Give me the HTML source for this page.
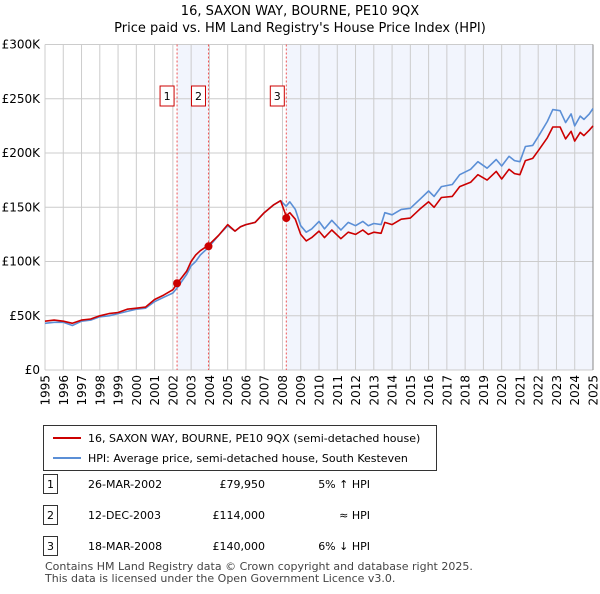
<!DOCTYPE html>
<html><head><meta charset="utf-8"><style>
body{margin:0;background:#fff;font-family:"DejaVu Sans","Liberation Sans",sans-serif;color:#222}
svg text{font-family:"DejaVu Sans","Liberation Sans",sans-serif}
</style></head><body>
<svg id="c" width="600" height="590" xmlns="http://www.w3.org/2000/svg">
<text x="300" y="15" text-anchor="middle" font-size="13">16, SAXON WAY, BOURNE, PE10 9QX</text>
<text x="300" y="32" text-anchor="middle" font-size="13">Price paid vs. HM Land Registry's House Price Index (HPI)</text>
<g id="plot"></g>
<g>
<rect x="43.5" y="425.5" width="393" height="45" fill="#fff" stroke="#333"/>
<line x1="53" y1="438" x2="81" y2="438" stroke="#cc0000" stroke-width="2"/>
<text x="88" y="442" font-size="11">16, SAXON WAY, BOURNE, PE10 9QX (semi-detached house)</text>
<line x1="53" y1="458" x2="81" y2="458" stroke="#5b8fd6" stroke-width="2"/>
<text x="88" y="462" font-size="11">HPI: Average price, semi-detached house, South Kesteven</text>
</g>
<g id="table" font-size="11"></g>
<text x="45" y="570" font-size="11" fill="#444">Contains HM Land Registry data © Crown copyright and database right 2025.</text>
<text x="45" y="582" font-size="11" fill="#444">This data is licensed under the Open Government Licence v3.0.</text>
</svg>
<script>
const dates=[1995,1995.5,1996,1996.5,1997,1997.5,1998,1998.5,1999,1999.5,2000,2000.5,2001,2001.5,2002,2002.25,2002.75,2003,2003.25,2003.5,2003.95,2004.5,2005,2005.4,2005.7,2006,2006.5,2007,2007.5,2007.9,2008.2,2008.4,2008.7,2009,2009.3,2009.6,2010,2010.3,2010.7,2011.2,2011.6,2012,2012.4,2012.7,2013,2013.4,2013.6,2014,2014.5,2015,2015.5,2016,2016.3,2016.7,2017.3,2017.7,2018.3,2018.7,2019.2,2019.7,2020,2020.4,2020.7,2021,2021.3,2021.7,2022,2022.5,2022.8,2023.2,2023.5,2023.8,2024,2024.3,2024.5,2024.8,2025];
const hpi=[43,44,44,41,45,46,49,50,52,54,56,57,63,67,71,76,88,96,100,106,113,124,133,128,132,134,136,145,152,156,151,155,148,133,127,130,137,130,138,129,136,133,137,133,135,134,145,143,148,149,157,165,160,169,171,180,185,192,186,194,188,197,193,192,206,207,215,229,240,239,228,236,225,234,231,236,241];
const prop=[45,46,45,43,46,47,50,52,53,56,57,58,65,69,74,80,91,100,106,110,115,124,134,128,132,134,136,145,152,156,142,145,139,125,119,122,128,122,129,121,127,125,129,125,127,126,136,134,139,140,148,155,150,159,160,169,173,180,175,183,176,185,181,180,193,195,202,214,224,224,213,220,211,219,216,221,225];
const saleDates=[2002.23,2003.95,2008.21];
const salePrices=[79950,114000,140000];
const saleLabels=["26-MAR-2002","12-DEC-2003","18-MAR-2008"];
const saleRel=["5% ↑ HPI","≈ HPI","6% ↓ HPI"];
const yTicks=[0,50000,100000,150000,200000,250000,300000];
const yTickLabels=["£0","£50K","£100K","£150K","£200K","£250K","£300K"];
const xYears=[1995,1996,1997,1998,1999,2000,2001,2002,2003,2004,2005,2006,2007,2008,2009,2010,2011,2012,2013,2014,2015,2016,2017,2018,2019,2020,2021,2022,2023,2024,2025];

const NS="http://www.w3.org/2000/svg";
const L=45,R=593,T=44.5,B=370;
const X=d=>L+(d-1995)/30*(R-L);
const Y=v=>B-v/300000*(B-T);
const plot=document.getElementById('plot');
function mk(tag,attrs,parent){const e=document.createElementNS(NS,tag);for(const k in attrs)e.setAttribute(k,attrs[k]);(parent||plot).appendChild(e);return e;}
let s1=mk('rect',{x:X(saleDates[0]),y:T,width:X(saleDates[1])-X(saleDates[0]),height:B-T,fill:'#f2f5fd'});


let s2=mk('rect',{x:X(saleDates[2]),y:T,width:R-X(saleDates[2]),height:B-T,fill:'#f2f5fd'});


xYears.forEach(y=>{let l=mk('line',{x1:X(y),x2:X(y),y1:T,y2:B,stroke:'#ccc','stroke-width':1});


let t=mk('text',{x:0,y:0,'text-anchor':'end','font-size':12,transform:'translate('+(X(y)+4.5)+',375) rotate(-90)'});t.textContent=y;

});
yTicks.forEach((v,i)=>{let l=mk('line',{x1:L,x2:R,y1:Y(v),y2:Y(v),stroke:'#ccc','stroke-width':1});


let t=mk('text',{x:40,y:Y(v)+4,'text-anchor':'end','font-size':12});t.textContent=yTickLabels[i];

});
let rb=mk('line',{x1:R,x2:R,y1:T,y2:B,stroke:'#888'});


saleDates.forEach((d,i)=>{let l=mk('line',{x1:X(d),x2:X(d),y1:T,y2:B,stroke:'#e55','stroke-width':1,'stroke-dasharray':'2,2'});


let bx=X(d)-3-(i==2?-1:0)-7;
let r=mk('rect',{x:bx-7,y:86,width:14,height:20,fill:'#fff',stroke:'#cc0000'});


let t=mk('text',{x:bx,y:100,'text-anchor':'middle','font-size':11});t.textContent=i+1;

});
function line(arr,color,name){let p=dates.map((d,i)=>(i?'L':'M')+X(d).toFixed(1)+','+Y(arr[i]*1000).toFixed(1)).join('');
let e=mk('path',{d:p,fill:'none',stroke:color,'stroke-width':1.6,'stroke-linejoin':'round'});

}
line(hpi,'#5b8fd6','hpi-line');
line(prop,'#cc0000','property-line');
saleDates.forEach((d,i)=>{let c=mk('circle',{cx:X(d),cy:Y(salePrices[i]),r:4,fill:'#cc0000'});

});
const tb=document.getElementById('table');
saleLabels.forEach((lab,i)=>{const y=487+i*31;
let r=mk('rect',{x:43.5,y:y-12.5,width:14,height:19,fill:'#fff',stroke:'#333'},tb);


let n=mk('text',{x:50.5,y:y+1,'text-anchor':'middle'},tb);n.textContent=i+1;


let a=mk('text',{x:88,y:y+1},tb);a.textContent=lab;


let b=mk('text',{x:265,y:y+1,'text-anchor':'end'},tb);b.textContent='£'+salePrices[i].toLocaleString('en-GB');


let c=mk('text',{x:370,y:y+1,'text-anchor':'end'},tb);c.textContent=saleRel[i];

});
</script>
</body></html>
